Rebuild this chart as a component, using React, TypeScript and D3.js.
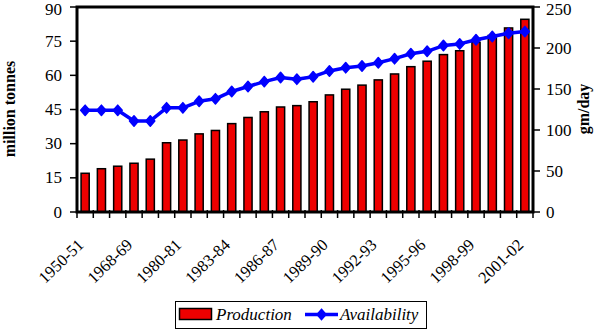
import React from "react";
import * as d3 from "d3";

const categories = ["1950-51","1955-56","1960-61","1968-69","1973-74","1979-80","1980-81","1981-82","1982-83","1983-84","1984-85","1985-86","1986-87","1987-88","1988-89","1989-90","1990-91","1991-92","1992-93","1993-94","1994-95","1995-96","1996-97","1997-98","1998-99","1999-00","2000-01","2001-02"];
const production = [17.0,19.0,20.1,21.4,23.2,30.4,31.6,34.3,35.8,38.8,41.5,44.0,46.1,46.7,48.4,51.4,53.9,55.7,58.0,60.6,63.8,66.2,69.1,70.8,74.5,77.5,80.8,84.6];
const availability = [124,124,124,111,111,127,127,135,138,147,153,159,164,162,165,172,176,178,182,187,193,196,203,205,210,214,218,220];
const leftTicks = [0,15,30,45,60,75,90];
const rightTicks = [0,50,100,150,200,250];

const W = 599, H = 329;
const L = 77, R = 533, T = 7, B = 212;
const FONT = "Liberation Serif";

export default function App() {
  const x = d3.scaleBand<string>().domain(categories).range([L, R]).padding(0);
  const yL = d3.scaleLinear().domain([0, 90]).range([B, T]);
  const yR = d3.scaleLinear().domain([0, 250]).range([B, T]);
  const bw = x.bandwidth() * 0.5;
  const cx = (c: string) => (x(c) as number) + x.bandwidth() / 2;
  const line = d3.line<number>().x((_, i) => cx(categories[i])).y(v => yR(v));
  const diamond = (px: number, py: number, hw = 4.5, hh = 5.2) =>
    `M${px},${py - hh}L${px + hw},${py}L${px},${py + hh}L${px - hw},${py}Z`;
  const ts: React.CSSProperties = { fontFamily: FONT };
  const base = (y: number) => Math.max(y + 5.6, 15);

  return (
    <svg width={W} height={H} style={{ position: "absolute", left: 0, top: 0, background: "#fff", fontFamily: FONT }}>
      {production.map((v, i) => (
        <rect key={"b" + i} x={cx(categories[i]) - bw / 2} y={yL(v)} width={bw} height={B - yL(v)}
          fill="#ee0000" stroke="#000" strokeWidth={1.5} />
      ))}
      <path d={line(availability) || ""} fill="none" stroke="#0000ff" strokeWidth={3.5} strokeLinejoin="round" />
      {availability.map((v, i) => (
        <path key={"d" + i} d={diamond(cx(categories[i]), yR(v))} fill="#0000ff" stroke="#0000ff" strokeWidth={1.5} strokeLinejoin="round" />
      ))}
      <rect x={L} y={T} width={R - L} height={B - T} fill="none" stroke="#000" strokeWidth={3} />
      {leftTicks.map(t => (
        <g key={"l" + t}>
          <line x1={L - 7} x2={L} y1={yL(t)} y2={yL(t)} stroke="#000" strokeWidth={1.5} />
          <text x={62} y={base(yL(t))} textAnchor="end" fontSize={17} style={ts}>{t}</text>
        </g>
      ))}
      {rightTicks.map(t => (
        <g key={"r" + t}>
          <line x1={R} x2={R + 7} y1={yR(t)} y2={yR(t)} stroke="#000" strokeWidth={1.5} />
          <text x={546} y={base(yR(t))} textAnchor="start" fontSize={17} style={ts}>{t}</text>
        </g>
      ))}
      {categories.concat([""]).map((c, i) => {
        const px = L + i * x.bandwidth();
        return <line key={"t" + i} x1={px} x2={px} y1={B - 2} y2={B + 6} stroke="#000" strokeWidth={1.5} />;
      })}
      {categories.map((c, i) => i % 3 === 0 ? (
        <text key={"x" + i} transform={`translate(${cx(c) - 0.5},${246}) rotate(-44)`} textAnchor="end" fontSize={16.5} style={ts}>{c}</text>
      ) : null)}
      <text transform={`translate(15,109) rotate(-90)`} textAnchor="middle" fontSize={16} fontWeight="bold" style={ts}>million tonnes</text>
      <text transform={`translate(589,109) rotate(-90)`} textAnchor="middle" fontSize={16} fontWeight="bold" style={ts}>gm/day</text>
      <rect x={175.5} y={301.5} width={251} height={27} fill="#fff" stroke="#000" strokeWidth={1} />
      <rect x={179.5} y={308.5} width={32} height={11} fill="#ee0000" stroke="#000" strokeWidth={1.5} />
      <text x={216} y={320} fontSize={17} fontStyle="italic" style={ts}>Production</text>
      <line x1={305} x2={338} y1={314.5} y2={314.5} stroke="#0000ff" strokeWidth={3.5} />
      <path d={diamond(321.5, 314.5)} fill="#0000ff" stroke="#0000ff" strokeWidth={1.5} />
      <text x={340} y={320} fontSize={17} fontStyle="italic" style={ts}>Availability</text>
    </svg>
  );
}
